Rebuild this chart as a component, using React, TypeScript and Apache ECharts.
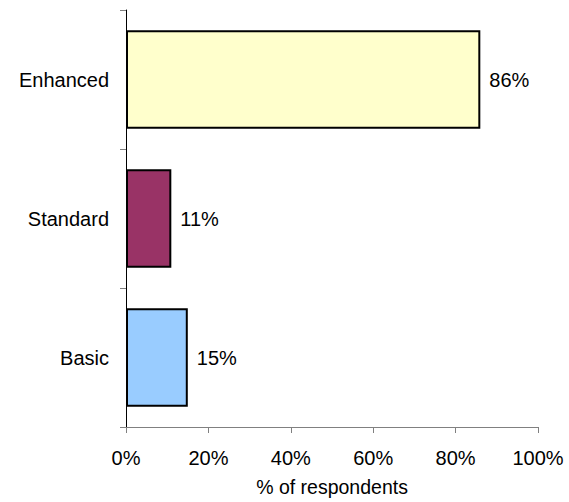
import React, { useEffect, useRef } from "react";
import * as echarts from "echarts";

const categories = ["Basic", "Standard", "Enhanced"];
const values = [15, 11, 86];
const barColors = ["#99CCFF", "#993366", "#FFFFCC"];
const xTicks = [0, 20, 40, 60, 80, 100];

export default function App() {
  const ref = useRef<HTMLDivElement>(null);
  useEffect(() => {
    if (!ref.current) return;
    const chart = echarts.init(ref.current, null, { renderer: "svg" });
    const font = "Liberation Sans, Arial, sans-serif";
    chart.setOption({
      animation: false,
      backgroundColor: "#ffffff",
      grid: { left: 126, right: 31, top: 10, bottom: 69, containLabel: false },
      xAxis: {
        type: "value",
        min: xTicks[0],
        max: xTicks[xTicks.length - 1],
        interval: 20,
        name: "% of respondents",
        nameLocation: "middle",
        nameGap: 50,
        nameTextStyle: { fontFamily: font, fontSize: 19.5, color: "#000" },
        axisLine: { show: true, lineStyle: { color: "#808080", width: 1 } },
        axisTick: { show: true, inside: false, length: 6, lineStyle: { color: "#808080" } },
        axisLabel: {
          formatter: "{value}%",
          fontFamily: font,
          fontSize: 20,
          color: "#000",
          margin: 21,
        },
        splitLine: { show: false },
      },
      yAxis: {
        type: "category",
        data: categories,
        axisLine: { show: true, lineStyle: { color: "#000", width: 1 } },
        axisTick: { show: true, length: 6, lineStyle: { color: "#808080" } },
        axisLabel: { fontFamily: font, fontSize: 20, color: "#000", margin: 17 },
        splitLine: { show: false },
      },
      series: [
        {
          type: "bar",
          data: values.map((v, i) => ({ value: v, itemStyle: { color: barColors[i] } })),
          barCategoryGap: "29%",
          itemStyle: { borderColor: "#000", borderWidth: 2 },
          label: {
            show: true,
            position: "right",
            distance: 9,
            formatter: "{c}%",
            fontFamily: font,
            fontSize: 20,
            color: "#000",
          },
        },
      ],
    });
    return () => chart.dispose();
  }, []);
  return <div ref={ref} style={{ width: 569, height: 502, position: "absolute", left: 0, top: 0 }} />;
}
